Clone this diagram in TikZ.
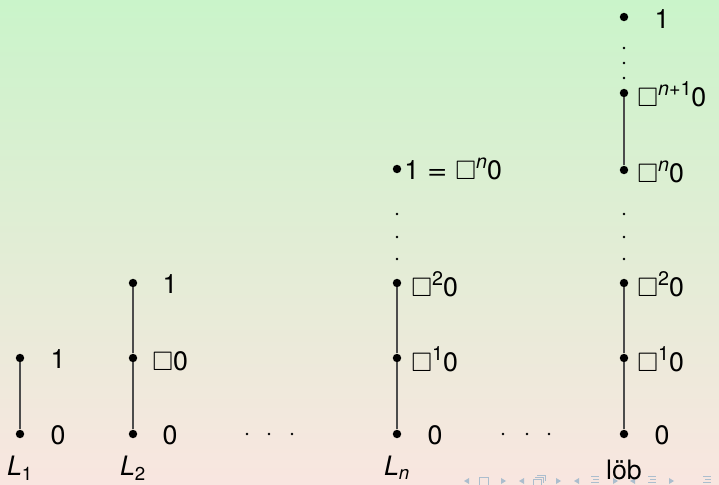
\documentclass[tikz,border=0pt]{standalone}
\usepackage{amssymb}
\usepackage{graphicx}
\usepackage{fontspec}
\setmainfont{TeX Gyre Heros}
\usepackage{tikz}
\usetikzlibrary{positioning}

\definecolor{bgtop}{RGB}{202,244,202}
\definecolor{bgbot}{RGB}{249,230,224}
\definecolor{navcol}{RGB}{172,190,206}

% raised exponent, a little larger than \textsuperscript
\newcommand{\expo}[1]{\raisebox{0.42em}{\fontsize{14}{16}\selectfont #1}}
% wide equals sign
\newcommand{\wideq}{\hspace{0.3em}\scalebox{1.3}[1]{=}\hspace{0.3em}}

\tikzset{
  pt/.style={circle,fill=black,inner sep=0pt,minimum size=6pt},
  gapdot/.style={circle,fill=black,inner sep=0pt,minimum size=2pt},
  lab/.style={inner sep=0pt,anchor=base,font=\fontsize{19}{23}\selectfont},
  boxlab/.style={inner sep=0pt,anchor=base west,font=\fontsize{19}{23}\selectfont},
  chain/.style={black!70,line width=0.9pt},
}

\begin{document}
\begin{tikzpicture}[x=0.025cm,y=-0.025cm]
        % Background of the slide
        \shade[top color=bgtop,bottom color=bgbot] (0,0) rectangle (719,485);
        \useasboundingbox (0,0) rectangle (719,485);

        % Navigation symbols (bottom right)
        \foreach \x in {467,522,577,633}
            \fill[navcol] (\x-3,481) -- (\x+2,478) -- (\x+2,484) -- cycle;
        \foreach \x in {503,558,615,671}
            \fill[navcol] (\x+3,481) -- (\x-2,478) -- (\x-2,484) -- cycle;
        \draw[navcol,line width=0.6pt] (479,477) rectangle (488,485);
        \draw[navcol,line width=0.6pt] (533,479) rectangle (541,485);
        \draw[navcol,line width=0.6pt] (535,477) -- (543,477) -- (543,483);
        \draw[navcol,line width=0.6pt] (537,475) -- (545,475) -- (545,481);
        \foreach \x in {595,652,707} {
            \draw[navcol,line width=0.6pt] (\x-4,476) -- (\x+4,476);
            \draw[navcol,line width=0.6pt] (\x-2,479) -- (\x+4,479);
            \draw[navcol,line width=0.6pt] (\x-4,482) -- (\x+4,482);
            \draw[navcol,line width=0.6pt] (\x-2,485) -- (\x+4,485);
        }

        % L_1
        \node[pt] (a0) at (20,434) {};
        \node[pt] (a1) at (20,358) {};
        \draw[chain] (a0) -- (a1);
        \node[lab] (a0l) at (58,445) {0};
        \node[lab] (a1l) at (58,369) {1};
        \node[lab] (aname) at (20,476) {\textit{L}\textsubscript{1}};

        % L_2
        \node[pt] (b0) at (133,434) {};
        \node[pt] (b1) at (133,358) {};
        \node[pt] (b2) at (133,283) {};
        \draw[chain] (b0) -- (b1) -- (b2);
        \node[lab] (b0l) at (170,445) {0};
        \node[boxlab] (b1l) at (152,371) {$\Box$0};
        \node[lab] (b2l) at (170,294) {1};
        \node[lab] (bname) at (133,476) {\textit{L}\textsubscript{2}};

        % first gap
        \node[gapdot] (g1) at (247,434) {};
        \node[gapdot] (g2) at (269,434) {};
        \node[gapdot] (g3) at (292,434) {};

        % L_n
        \node[pt] (c0) at (397,434) {};
        \node[pt] (c1) at (397,358) {};
        \node[pt] (c2) at (397,283) {};
        \draw[chain] (c0) -- (c1) -- (c2);
        \node[gapdot] (cd1) at (397,259) {};
        \node[gapdot] (cd2) at (397,237) {};
        \node[gapdot] (cd3) at (397,214) {};
        \node[pt] (ctop) at (397,169) {};
        \node[lab] (c0l) at (435,445) {0};
        \node[boxlab] (c1l) at (411,372) {$\Box$\expo{1}0};
        \node[boxlab] (c2l) at (411,297) {$\Box$\expo{2}0};
        \node[boxlab] (ctopl) at (404,180) {1\wideq$\Box$\expo{\textit{n}}0};
        \node[lab] (cname) at (397,476) {\textit{L}\textsubscript{\textit{n}}};

        % second gap
        \node[gapdot] (h1) at (503,434) {};
        \node[gapdot] (h2) at (527,434) {};
        \node[gapdot] (h3) at (549,434) {};

        % loeb
        \node[pt] (d0) at (624,434) {};
        \node[pt] (d1) at (624,358) {};
        \node[pt] (d2) at (624,283) {};
        \draw[chain] (d0) -- (d1) -- (d2);
        \node[gapdot] (dd1) at (624,259) {};
        \node[gapdot] (dd2) at (624,237) {};
        \node[gapdot] (dd3) at (624,214) {};
        \node[pt] (dn) at (624,170) {};
        \node[pt] (dn1) at (624,93) {};
        \draw[chain] (dn) -- (dn1);
        \node[gapdot] (de1) at (624,78) {};
        \node[gapdot] (de2) at (624,63) {};
        \node[gapdot] (de3) at (624,48) {};
        \node[pt] (dtop) at (624,17) {};
        \node[lab] (d0l) at (662,445) {0};
        \node[boxlab] (d1l) at (637,372) {$\Box$\expo{1}0};
        \node[boxlab] (d2l) at (637,297) {$\Box$\expo{2}0};
        \node[boxlab] (dnl) at (637,183) {$\Box$\expo{\textit{n}}0};
        \node[boxlab] (dn1l) at (637,107) {$\Box$\expo{\textit{n}+1}0};
        \node[lab] (dtopl) at (662,29) {1};
        \node[lab] (dname) at (624,480) {löb};
    \end{tikzpicture}
\end{document}
